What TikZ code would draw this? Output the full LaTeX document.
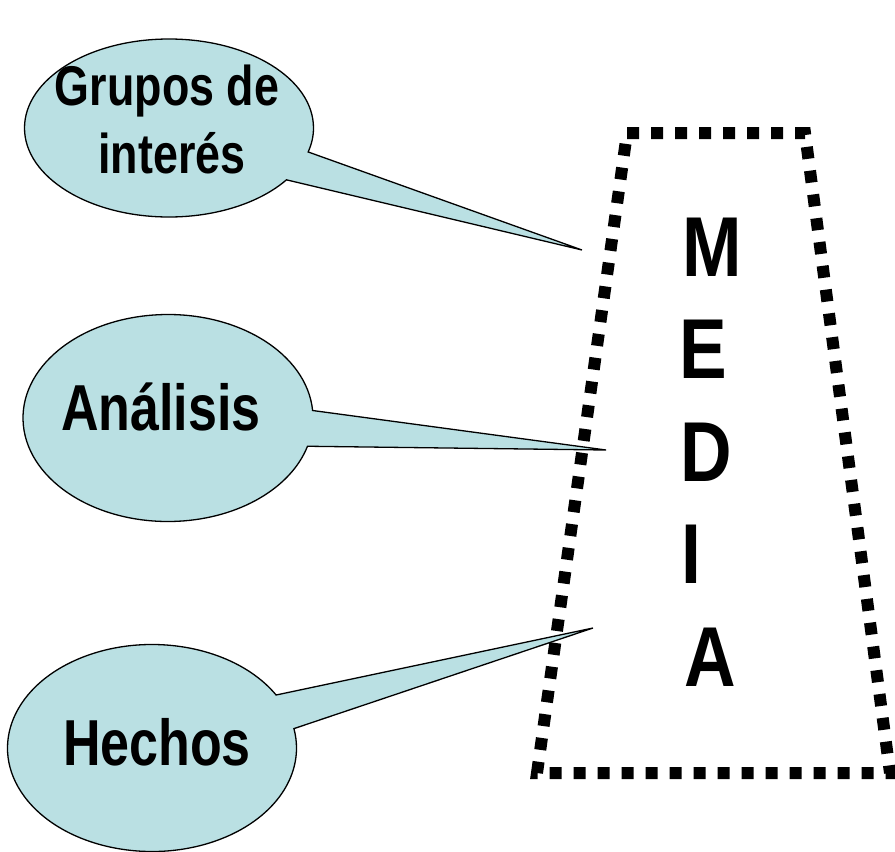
\documentclass[tikz,border=0pt]{standalone}
\usepackage{fontspec}
\setmainfont[FakeStretch=0.8]{Liberation Sans}
\newfontfamily\letterfont[FakeStretch=0.84]{Liberation Sans}
\usepackage{xcolor}
\usetikzlibrary{shapes.callouts}
\definecolor{bubblecol}{RGB}{186,224,227}

\begin{document}
\begin{tikzpicture}[x=1pt,y=-1pt]
    \tikzstyle{bubble}=[ellipse callout, draw=black, fill=bubblecol, line width=1.3pt, inner sep=0pt, callout pointer arc=20]
    \tikzstyle{bubbletext}=[anchor=base, inner sep=0pt]
    \tikzstyle{letter}=[font=\fontsize{85}{85}\letterfont\bfseries, anchor=base west, inner sep=0pt]
    \useasboundingbox (0,0) rectangle (895,852);
    % dotted frame
    \draw [line width=12pt, dash pattern=on 12pt off 12pt] (627,133) -- (805,133) -- (890,773) -- (537,773) -- cycle;
    \foreach \l/\y/\x in {M/276/682,E/378/679,D/481/680,I/583/681,A/686/684}
        \node [letter] (media-\l) at (\x,\y) {\l};
    % tips of the callouts
    \coordinate (tip1) at (582,250);
    \coordinate (tip2) at (606,450);
    \coordinate (tip3) at (593,628);
    \node [bubble, minimum width=289, minimum height=178, callout absolute pointer={(tip1)}] (grupos) at (169,128) {};
    \node [bubble, minimum width=290, minimum height=207, callout absolute pointer={(tip2)}] (analisis) at (168,418) {};
    \node [bubble, minimum width=289, minimum height=207, callout absolute pointer={(tip3)}] (hechos) at (152,748) {};
    \node [bubbletext, font=\fontsize{56}{56}\selectfont\bfseries] (grupos-1) at (167,105) {Grupos de};
    \node [bubbletext, font=\fontsize{56}{56}\selectfont\bfseries] (grupos-2) at (172,173) {interés};
    \node [bubbletext, font=\fontsize{65}{65}\selectfont\bfseries] (analisis-1) at (161,430) {Análisis};
    \node [bubbletext, font=\fontsize{65}{65}\selectfont\bfseries] (hechos-1) at (157,765) {Hechos};
\end{tikzpicture}
\end{document}
